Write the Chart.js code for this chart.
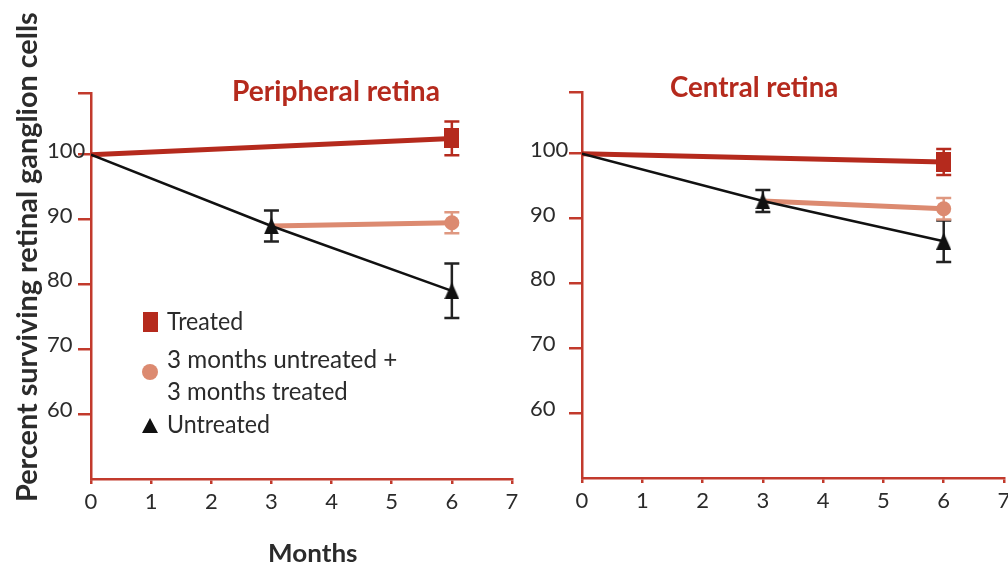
<!DOCTYPE html>
<html>
<head>
<meta charset="utf-8">
<script src="https://cdn.jsdelivr.net/npm/chart.js@4.4.1/dist/chart.umd.min.js"></script>
<style>
  html, body { margin: 0; padding: 0; background: #fff; }
  body { position: relative; width: 1008px; height: 567px; overflow: hidden; }
  .panel { position: absolute; top: 0; width: 540px; height: 567px; }
  .txt { position: absolute; white-space: nowrap; line-height: 1; font-family: Lato, "Open Sans", sans-serif; }
  .mark { position: absolute; }
</style>
</head>
<body>
<div class="panel" style="left:0px"><canvas id="peripheral" width="540" height="567"></canvas></div>
<div class="panel" style="left:491px"><canvas id="central" width="540" height="567"></canvas></div>

<div class="mark" style="left:143px;top:312px;width:15px;height:20px;background:#b52a1d"></div>
<div class="mark" style="left:142px;top:364px;width:16px;height:16px;border-radius:50%;background:#dc8a70"></div>
<svg class="mark" style="left:142px;top:418px" width="16" height="15"><polygon points="8,0 16,15 0,15" fill="#111"/></svg>

<script>
// Axis ticks
const xTicks = [0, 1, 2, 3, 4, 5, 6, 7];
const yTicks = [50, 60, 70, 80, 90, 100, 109.5];
const yLabels = [60, 70, 80, 90, 100];

// Time points (months)
const treatedMonths = [0, 6];
const combinedMonths = [3, 6];
const untreatedMonths = [0, 3, 6];

// Peripheral retina: percent surviving cells and error (0 = no bar/marker)
const periTreated = [100, 102.5];
const periTreatedErr = [0, 2.6];
const periCombined = [89.0, 89.5];
const periCombinedErr = [0, 1.6];
const periUntreated = [100, 89.0, 79.0];
const periUntreatedErr = [0, 2.4, 4.2];

// Central retina
const centTreated = [100, 98.7];
const centTreatedErr = [0, 2.0];
const centCombined = [92.7, 91.5];
const centCombinedErr = [0, 1.65];
const centUntreated = [100, 92.7, 86.5];
const centUntreatedErr = [0, 1.7, 3.2];

const AXIS = '#c23a2c';
const RED = '#b52a1d';
const SALMON = '#dc8a70';
const BLACK = '#111111';
const TXT = '#2b2b2b';

// Marker sprites
function sprite(w, h, draw) {
  const c = document.createElement('canvas');
  c.width = w; c.height = h;
  draw(c.getContext('2d'), w, h);
  return c;
}
const rectMarker = sprite(15, 20, (g, w, h) => { g.fillStyle = RED; g.fillRect(0, 0, w, h); });
const triMarker = sprite(15, 17, (g, w, h) => {
  g.fillStyle = BLACK; g.beginPath(); g.moveTo(w / 2, 0); g.lineTo(w, h); g.lineTo(0, h); g.closePath(); g.fill();
});

function pts(xs, ys) { return xs.map((x, i) => ({ x: x, y: ys[i] })); }

function datasets(treated, treatedErr, combined, combinedErr, untreated, untreatedErr) {
  return [
    {
      label: 'Untreated', data: pts(untreatedMonths, untreated), errors: untreatedErr,
      borderColor: BLACK, borderWidth: 2.5, errorColor: '#222',
      pointStyle: triMarker, pointRadius: untreatedErr.map(e => e > 0 ? 8 : 0)
    },
    {
      label: 'Treated', data: pts(treatedMonths, treated), errors: treatedErr,
      borderColor: RED, borderWidth: 5, errorColor: RED,
      pointStyle: rectMarker, pointRadius: treatedErr.map(e => e > 0 ? 8 : 0)
    },
    {
      label: '3 months untreated + 3 months treated', data: pts(combinedMonths, combined), errors: combinedErr,
      borderColor: SALMON, borderWidth: 5, errorColor: '#df9880',
      pointStyle: 'circle', pointRadius: combinedErr.map(e => e > 0 ? 7.5 : 0),
      pointBackgroundColor: SALMON, pointBorderWidth: 0
    }
  ];
}

// Vertical error bars with caps, drawn under the markers
const errorBars = {
  id: 'errorBars',
  beforeDatasetsDraw(chart) {
    const ctx = chart.ctx;
    const y = chart.scales.y;
    chart.data.datasets.forEach((ds, i) => {
      const meta = chart.getDatasetMeta(i);
      (ds.errors || []).forEach((e, j) => {
        if (!e) return;
        const px = meta.data[j].x;
        const v = ds.data[j].y;
        const top = y.getPixelForValue(v + e);
        const bot = y.getPixelForValue(v - e);
        ctx.save();
        ctx.strokeStyle = ds.errorColor;
        ctx.lineWidth = 2.5;
        ctx.beginPath();
        ctx.moveTo(px, top); ctx.lineTo(px, bot);
        ctx.moveTo(px - 7.5, top); ctx.lineTo(px + 7.5, top);
        ctx.moveTo(px - 7.5, bot); ctx.lineTo(px + 7.5, bot);
        ctx.stroke();
        ctx.restore();
      });
    });
  }
};

function options(pad, yWidth, xHeight) {
  const tickFont = { family: 'Lato', size: 22 };
  return {
    responsive: false,
    animation: false,
    events: [],
    layout: { padding: pad },
    plugins: { legend: { display: false }, tooltip: { enabled: false } },
    elements: { line: { tension: 0, fill: false } },
    scales: {
      x: {
        type: 'linear', min: 0, max: 7,
        afterBuildTicks: s => { s.ticks = xTicks.map(v => ({ value: v })); },
        afterFit: s => { s.height = xHeight; },
        grid: { drawOnChartArea: false, drawTicks: true, tickLength: 5, color: AXIS, lineWidth: 2.5 },
        border: { color: AXIS, width: 2.5 },
        ticks: { padding: 5, color: TXT, font: tickFont, maxRotation: 0, autoSkip: false }
      },
      y: {
        type: 'linear', min: 50, max: 109.5,
        afterBuildTicks: s => { s.ticks = yTicks.map(v => ({ value: v })); },
        afterFit: s => { s.width = yWidth; },
        grid: {
          drawOnChartArea: false, drawTicks: true, tickLength: 13, lineWidth: 2.5,
          color: c => (c.tick && c.tick.value === 50) ? 'rgba(0,0,0,0)' : AXIS
        },
        border: { color: AXIS, width: 2.5 },
        ticks: {
          crossAlign: 'far', padding: 0, labelOffset: -4, color: TXT, font: tickFont, autoSkip: false,
          callback: v => yLabels.includes(v) ? String(v) : ''
        }
      }
    }
  };
}

new Chart(document.getElementById('peripheral'), {
  type: 'line',
  data: { datasets: datasets(periTreated, periTreatedErr, periCombined, periCombinedErr, periUntreated, periUntreatedErr) },
  options: options({ left: 47, right: 28, top: 93, bottom: 0 }, 44, 88),
  plugins: [errorBars]
});

new Chart(document.getElementById('central'), {
  type: 'line',
  data: { datasets: datasets(centTreated, centTreatedErr, centCombined, centCombinedErr, centUntreated, centUntreatedErr) },
  options: options({ left: 39, right: 27, top: 92, bottom: 0 }, 52, 89),
  plugins: [errorBars]
});

// Titles, axis titles and legend text
const texts = [
  { t: 'Peripheral retina', x: 232, b: 101, size: 28, w: 208, weight: 700, color: RED },
  { t: 'Central retina', x: 670, b: 97, size: 28, w: 168, weight: 700, color: RED },
  { t: 'Months', x: 268, b: 562, size: 24, w: 89, weight: 700, color: TXT },
  { t: 'Percent surviving retinal ganglion cells', x: 37, b: 502, size: 28, w: 490, weight: 700, color: TXT, rotate: true },
  { t: 'Treated', x: 167, b: 330, size: 25, w: 76, weight: 400, color: TXT },
  { t: '3 months untreated +', x: 167, b: 368, size: 25, w: 230, weight: 400, color: TXT },
  { t: '3 months treated', x: 167, b: 400, size: 25, w: 181, weight: 400, color: TXT },
  { t: 'Untreated', x: 167, b: 433, size: 25, w: 103, weight: 400, color: TXT }
];

const meter = document.createElement('canvas').getContext('2d');
texts.forEach(s => {
  const el = document.createElement('div');
  el.className = 'txt';
  el.textContent = s.t;
  el.style.fontSize = s.size + 'px';
  el.style.fontWeight = s.weight;
  el.style.color = s.color;
  document.body.appendChild(el);
  meter.font = `${s.weight} ${s.size}px Lato`;
  const m = meter.measureText('Hg');
  const a = m.fontBoundingBoxAscent, d = m.fontBoundingBoxDescent;
  const base = (s.size - (a + d)) / 2 + a;
  el.style.left = s.x + 'px';
  el.style.top = (s.b - base) + 'px';
  el.style.transformOrigin = `0px ${base}px`;
  const k = s.w / el.offsetWidth;
  el.style.transform = (s.rotate ? 'rotate(-90deg) ' : '') + `scaleX(${k})`;
});
</script>
</body>
</html>
